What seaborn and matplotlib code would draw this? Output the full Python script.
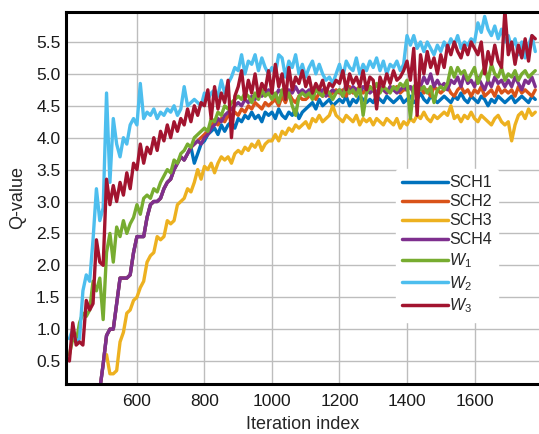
import matplotlib
matplotlib.use('Agg')
import matplotlib.pyplot as plt
import seaborn as sns
import numpy as np
import pandas as pd

# iteration index, one sample every 10 iterations
iters = np.arange(400, 1790, 10)
nan = np.nan

sch1 = [nan, nan, nan, nan, nan, nan, nan, nan, nan, 0.05,
        0.45, 0.9, 1.0, 1.0, 1.4, 1.8, 1.8, 1.8, 1.85, 2.2,
        2.45, 2.45, 2.45, 2.75, 2.95, 3.0, 3.0, 3.05, 3.2, 3.3,
        3.35, 3.5, 3.6, 3.7, 3.65, 3.75, 3.85, 3.6, 3.75, 3.9,
        3.95, 4.05, 4.1, 4.15, 4.05, 4.2, 4.1, 4.2, 4.25, 4.15,
        4.3, 4.25, 4.35, 4.3, 4.4, 4.3, 4.35, 4.25, 4.4, 4.35,
        4.4, 4.3, 4.45, 4.35, 4.3, 4.4, 4.35, 4.45, 4.3, 4.4,
        4.45, 4.5, 4.55, 4.45, 4.6, 4.5, 4.55, 4.6, 4.5, 4.55,
        4.6, 4.55, 4.65, 4.5, 4.6, 4.55, 4.65, 4.6, 4.55, 4.6,
        4.55, 4.65, 4.6, 4.55, 4.65, 4.6, 4.55, 4.6, 4.65, 4.55,
        4.6, 4.65, 4.55, 4.6, 4.7, 4.6, 4.55, 4.65, 4.6, 4.55,
        4.6, 4.65, 4.6, 4.55, 4.65, 4.6, 4.7, 4.6, 4.55, 4.65,
        4.6, 4.55, 4.65, 4.6, 4.5, 4.6, 4.55, 4.65, 4.6, 4.55,
        4.6, 4.65, 4.55, 4.6, 4.65, 4.6, 4.55, 4.65, 4.6]

sch2 = [nan, nan, nan, nan, nan, nan, nan, nan, nan, 0.05,
        0.45, 0.9, 1.0, 1.0, 1.4, 1.8, 1.8, 1.8, 1.85, 2.2,
        2.45, 2.45, 2.45, 2.75, 2.95, 3.0, 3.0, 3.05, 3.2, 3.3,
        3.35, 3.5, 3.6, 3.7, 3.65, 3.75, 3.85, 3.9, 3.95, 4.0,
        4.05, 4.1, 4.2, 4.25, 4.2, 4.3, 4.25, 4.35, 4.3, 4.4,
        4.35, 4.45, 4.4, 4.5, 4.45, 4.55, 4.5, 4.45, 4.55, 4.5,
        4.55, 4.6, 4.5, 4.65, 4.55, 4.7, 4.6, 4.55, 4.65, 4.6,
        4.6, 4.65, 4.7, 4.6, 4.7, 4.65, 4.75, 4.65, 4.7, 4.75,
        4.7, 4.75, 4.65, 4.8, 4.7, 4.75, 4.8, 4.7, 4.75, 4.8,
        4.75, 4.7, 4.8, 4.75, 4.7, 4.8, 4.75, 4.8, 4.7, 4.75,
        4.75, 4.8, 4.7, 4.75, 4.8, 4.7, 4.75, 4.65, 4.8, 4.75,
        4.7, 4.75, 4.8, 4.7, 4.65, 4.75, 4.8, 4.7, 4.75, 4.65,
        4.75, 4.7, 4.8, 4.65, 4.7, 4.75, 4.65, 4.8, 4.7, 4.75,
        4.7, 4.75, 4.65, 4.8, 4.7, 4.75, 4.7, 4.65, 4.75]

sch3 = [nan, nan, nan, nan, nan, nan, nan, nan, nan, nan,
        nan, 0.6, 0.3, 0.3, 0.35, 0.8, 0.95, 1.25, 1.3, 1.45,
        1.5, 1.65, 1.75, 2.05, 2.15, 2.2, 2.45, 2.4, 2.45, 2.7,
        2.65, 2.7, 2.95, 3.0, 3.05, 3.2, 3.15, 3.3, 3.5, 3.35,
        3.55, 3.5, 3.6, 3.45, 3.6, 3.7, 3.65, 3.7, 3.6, 3.75,
        3.8, 3.75, 3.85, 3.8, 3.9, 3.85, 3.95, 3.8, 3.9, 3.95,
        3.95, 4.05, 3.95, 4.1, 4.05, 4.15, 4.1, 4.2, 4.15, 4.2,
        4.25, 4.15, 4.3, 4.25, 4.35, 4.25, 4.3, 4.35, 4.5, 4.35,
        4.3, 4.25, 4.35, 4.3, 4.25, 4.35, 4.2, 4.3, 4.25, 4.3,
        4.2, 4.3, 4.25, 4.2, 4.3, 4.25, 4.2, 4.3, 4.15, 4.25,
        4.2, 4.3, 4.25, 4.35, 4.3, 4.4, 4.3, 4.25, 4.35, 4.3,
        4.35, 4.4, 4.35, 4.5, 4.3, 4.35, 4.25, 4.35, 4.3, 4.4,
        4.3, 4.25, 4.35, 4.3, 4.25, 4.2, 4.3, 4.35, 4.25, 4.2,
        4.25, 3.95, 4.2, 4.35, 4.4, 4.3, 4.45, 4.35, 4.4]

sch4 = [nan, nan, nan, nan, nan, nan, nan, nan, nan, 0.05,
        0.45, 0.9, 1.0, 1.0, 1.4, 1.8, 1.8, 1.8, 1.85, 2.2,
        2.45, 2.45, 2.45, 2.75, 2.95, 3.0, 3.0, 3.05, 3.2, 3.3,
        3.35, 3.5, 3.6, 3.7, 3.65, 3.75, 3.85, 3.9, 3.95, 3.9,
        4.0, 4.05, 4.15, 4.2, 4.3, 4.25, 4.35, 4.4, 4.45, 4.5,
        4.55, 4.5, 4.6, 4.55, 4.65, 4.6, 4.7, 4.65, 4.7, 4.75,
        4.7, 4.65, 4.75, 4.7, 4.65, 4.75, 4.7, 4.8, 4.7, 4.75,
        4.7, 4.75, 4.65, 4.8, 4.7, 4.75, 4.65, 4.7, 4.75, 4.7,
        4.75, 4.65, 4.85, 4.7, 4.8, 4.75, 4.7, 4.8, 4.75, 4.7,
        4.75, 4.7, 4.8, 4.75, 4.7, 4.8, 4.75, 4.7, 4.75, 4.8,
        4.75, 4.8, 4.7, 4.85, 4.8, 4.95, 4.85, 5.0, 4.8, 4.9,
        4.8, 4.85, 4.75, 4.9, 4.85, 4.95, 4.8, 5.0, 4.85, 4.9,
        4.8, 4.95, 4.85, 4.75, 4.9, 4.8, 4.95, 4.85, 4.9, 4.8,
        4.9, 4.8, 4.95, 4.85, 4.75, 4.9, 4.85, 4.95, 4.8]

w1 = [0.6, 0.85, 0.8, 1.1, 1.25, 1.2, 1.3, 1.75, 1.6, 1.8,
      1.15, 2.2, 2.5, 2.05, 2.6, 2.45, 2.7, 2.5, 2.65, 2.75,
      2.95, 2.8, 3.05, 3.1, 3.05, 3.2, 3.15, 3.3, 3.4, 3.5,
      3.45, 3.65, 3.6, 3.75, 3.8, 3.9, 3.85, 4.0, 4.05, 4.1,
      4.15, 4.1, 4.3, 4.25, 4.4, 4.35, 4.5, 4.45, 4.55, 4.6,
      4.65, 4.6, 4.7, 4.65, 4.55, 4.7, 4.6, 4.75, 4.65, 4.7,
      4.6, 4.7, 4.55, 4.75, 4.6, 4.7, 4.5, 4.35, 4.65, 4.7,
      4.65, 4.7, 4.6, 4.75, 4.7, 4.65, 4.75, 4.7, 4.6, 4.7,
      4.75, 4.65, 4.8, 4.7, 4.75, 4.65, 4.8, 4.35, 4.7, 4.8,
      4.75, 4.85, 4.7, 4.8, 4.75, 4.7, 4.8, 4.75, 4.85, 4.8,
      4.9, 4.3, 4.8, 4.85, 4.75, 4.8, 4.7, 4.8, 4.55, 4.75,
      4.8, 4.75, 4.85, 5.1, 4.95, 5.1, 5.0, 5.05, 4.9, 5.0,
      5.1, 4.85, 5.0, 5.1, 4.9, 5.15, 5.0, 4.95, 5.1, 4.9,
      5.0, 4.95, 5.05, 4.9, 5.0, 5.05, 4.95, 5.0, 5.05]

w2 = [0.85, 1.0, 0.8, 0.85, 1.6, 1.85, 1.75, 2.4, 3.2, 2.7,
      2.9, 4.7, 3.3, 4.3, 3.9, 3.7, 4.0, 3.9, 4.2, 4.3,
      4.2, 4.85, 4.3, 4.4, 4.35, 4.45, 4.3, 4.4, 4.35, 4.45,
      4.4, 4.5, 4.35, 4.45, 4.8, 4.5, 4.55, 4.6, 4.55, 4.5,
      4.7, 4.6, 4.7, 4.75, 4.65, 4.9, 4.7, 4.85, 4.95, 5.1,
      5.05, 5.3, 5.0, 5.2, 5.15, 5.3, 5.05, 5.25, 5.1, 5.0,
      5.1, 5.0, 5.3, 5.25, 4.95, 5.2, 5.1, 5.3, 5.0, 5.15,
      4.95, 5.1, 5.2, 5.0, 5.15, 5.0, 4.9, 4.95, 4.85, 5.0,
      5.15, 4.95, 5.2, 5.1, 5.05, 5.25, 5.0, 5.15, 5.05, 5.2,
      5.1, 5.25, 5.05, 5.2, 5.0, 5.15, 5.1, 5.2, 5.05, 5.15,
      5.6, 5.45, 5.6, 5.4, 5.5, 5.35, 5.5, 5.4, 5.3, 5.45,
      5.35, 5.5, 5.4, 5.55, 5.45, 5.6, 5.4, 5.5, 5.45, 5.55,
      5.5, 5.8, 5.65, 5.9, 5.7, 5.6, 5.75, 5.55, 5.7, 5.5,
      5.6, 5.4, 5.55, 5.3, 5.5, 5.25, 5.45, 5.6, 5.35]

w3 = [0.5, 1.1, 0.75, 0.8, 0.75, 1.45, 1.3, 1.4, 2.4, 2.05,
      2.0, 3.35, 2.95, 3.25, 3.0, 3.3, 3.1, 3.45, 3.2, 3.6,
      3.5, 3.9, 3.6, 3.85, 3.75, 4.0, 3.8, 4.1, 3.95, 4.2,
      4.0, 4.25, 4.1, 4.3, 4.2, 4.45, 4.25, 4.5, 4.35, 4.55,
      4.5, 4.75, 4.3, 4.8, 4.45, 4.7, 4.55, 4.9, 4.0, 4.65,
      4.8, 5.05, 4.6, 4.9, 4.7, 5.0, 4.65, 4.85, 4.75, 5.05,
      4.7, 5.15, 4.8, 5.0, 4.6, 5.1, 4.75, 4.95, 4.85, 5.05,
      4.8, 4.95, 4.7, 4.85, 4.75, 4.9, 4.7, 4.85, 4.8, 4.9,
      4.85, 5.05, 4.75, 5.0, 4.85, 4.95, 4.8, 5.05, 4.75, 4.95,
      4.9, 4.45, 4.95, 4.8, 5.0, 4.85, 5.05, 4.9, 4.95, 5.05,
      5.2, 4.9, 5.4, 4.35, 5.3, 5.0, 5.35, 5.1, 5.25, 5.0,
      5.3, 5.1, 5.45, 5.3, 5.5, 5.35, 5.25, 5.45, 5.3, 5.5,
      5.4, 5.3, 5.5, 5.0, 5.35, 5.15, 5.45, 5.2, 5.1, 6.0,
      5.3, 5.5, 5.15, 5.45, 5.25, 5.55, 5.2, 5.6, 5.55]

labels = ['SCH1', 'SCH2', 'SCH3', 'SCH4', '$\\mathit{W}_1$', '$\\mathit{W}_2$', '$\\mathit{W}_3$']
series = [sch1, sch2, sch3, sch4, w1, w2, w3]
colors = ['#0072BD', '#D95319', '#EDB120', '#7E2F8E', '#77AC30', '#4DBEEE', '#A2142F']

sns.set_theme(style='whitegrid')
plt.rcParams['font.family'] = ['Liberation Sans', 'DejaVu Sans']
plt.rcParams['mathtext.fontset'] = 'custom'
plt.rcParams['mathtext.rm'] = 'Liberation Sans'
plt.rcParams['mathtext.it'] = 'Liberation Sans:italic'

fig = plt.figure(figsize=(5.39, 4.34), dpi=100)
ax = fig.add_axes([0.1225, 0.1152, 0.8775, 0.8572])

for vals, lab, col in zip(series, labels, colors):
    df = pd.DataFrame({'it': iters, 'q': vals})
    sns.lineplot(data=df, x='it', y='q', color=col, label=lab, lw=2.4, ax=ax)

ax.set_xlim(390, 1791)
ax.set_ylim(0.14, 5.97)
ax.set_xticks([600, 800, 1000, 1200, 1400, 1600])
ax.set_yticks(np.arange(0.5, 5.51, 0.5))
ax.set_yticklabels([f'{v:.1f}' for v in np.arange(0.5, 5.51, 0.5)])
ax.grid(True, color='#bdbdbd', lw=1.0)
ax.tick_params(labelsize=12.5, colors='#1a1a1a', length=0)
ax.tick_params(axis='x', pad=7)
ax.tick_params(axis='y', pad=4)

for side in ['left', 'top', 'bottom']:
    ax.spines[side].set_color('black')
    ax.spines[side].set_linewidth(2.2)
ax.spines['right'].set_visible(False)

ax.set_xlabel('Iteration index', fontsize=13, labelpad=5)
ax.set_ylabel('Q-value', fontsize=13, labelpad=7)

leg = ax.legend(loc='upper left', bbox_to_anchor=(0.68, 0.6), fontsize=11.5,
                handlelength=2.9, handletextpad=0.05, labelspacing=0.25,
                frameon=True, facecolor='white', edgecolor='white', framealpha=1,
                borderpad=0.4)
for h in leg.get_lines():
    h.set_linewidth(2.5)

plt.savefig('out.png', dpi=100)
